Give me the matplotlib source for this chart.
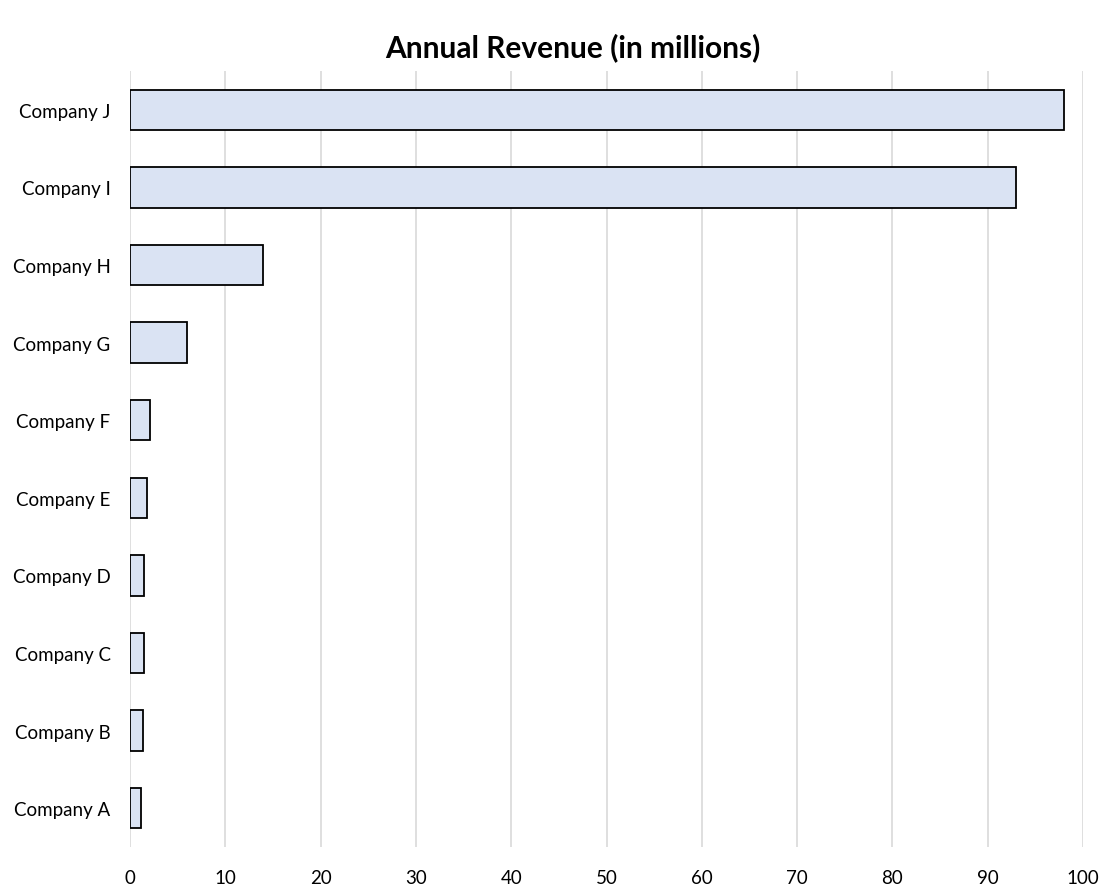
import matplotlib.pyplot as plt

companies = ['Company A', 'Company B', 'Company C', 'Company D', 'Company E',
             'Company F', 'Company G', 'Company H', 'Company I', 'Company J']
revenue = [1.1, 1.4, 1.5, 1.5, 1.8, 2.1, 6.0, 14.0, 93.0, 98.0]
x_ticks = list(range(0, 101, 10))

plt.rcParams['font.family'] = ['Lato', 'DejaVu Sans']

fig = plt.figure(figsize=(11.03, 8.87), dpi=100)
ax = fig.add_axes([0.1179, 0.044, 0.8640, 0.8748])

ax.barh(range(len(companies)), revenue, height=0.52, color='#DAE3F3',
        edgecolor='black', linewidth=1.3, zorder=3)

ax.set_xlim(0, 100)
ax.set_ylim(-0.5, 9.5)
ax.set_xticks(x_ticks)
ax.set_yticks(range(len(companies)))
ax.set_yticklabels(companies)
ax.grid(axis='x', color='#d9d9d9', linewidth=1.2, zorder=0)
for s in ax.spines.values():
    s.set_visible(False)
ax.tick_params(axis='both', length=0, labelsize=13.5, colors='black')
ax.tick_params(axis='x', pad=16)
ax.tick_params(axis='y', pad=14)

fig.suptitle('Annual Revenue (in millions)', fontsize=21.5, fontweight='bold',
             x=0.519, y=0.963)

fig.savefig('out.png', dpi=100)
